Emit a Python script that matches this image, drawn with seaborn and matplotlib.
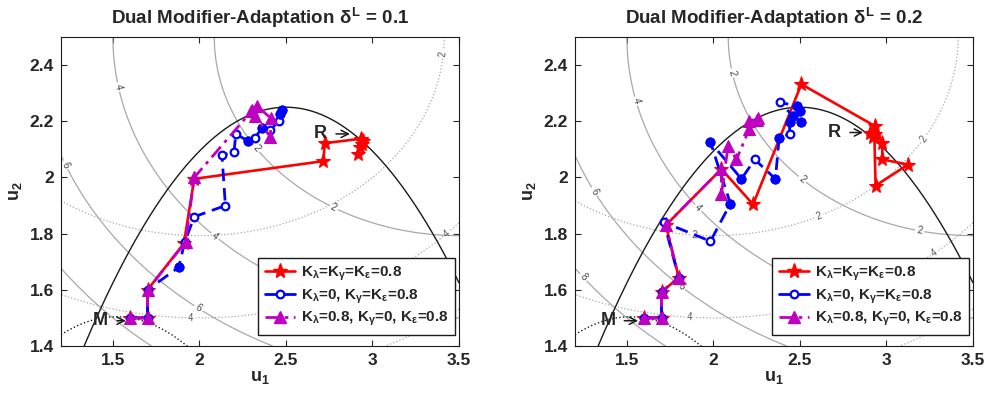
import numpy as np
import pandas as pd
import matplotlib
matplotlib.use("Agg")
import matplotlib.pyplot as plt
import seaborn as sns

# ---------------- data ----------------
titles = ["Dual Modifier-Adaptation $\\delta^{L}$ = 0.1",
          "Dual Modifier-Adaptation $\\delta^{L}$ = 0.2"]
legend_labels = ["K$_{\\lambda}$=K$_{\\gamma}$=K$_{\\varepsilon}$=0.8",
                 "K$_{\\lambda}$=0, K$_{\\gamma}$=K$_{\\varepsilon}$=0.8",
                 "K$_{\\lambda}$=0.8, K$_{\\gamma}$=0, K$_{\\varepsilon}$=0.8"]
x_ticks = [1.5, 2, 2.5, 3, 3.5]
y_ticks = [1.4, 1.6, 1.8, 2, 2.2, 2.4]
contour_levels = [2, 4, 6, 8]

# panel 1 (delta^L = 0.1)
red1_u1 = [1.6, 1.7, 1.7, 1.91, 1.97, 2.715, 2.725, 2.935, 2.915, 2.945, 2.93, 2.94, 2.935]
red1_u2 = [1.5, 1.5, 1.6, 1.765, 1.995, 2.058, 2.122, 2.138, 2.085, 2.128, 2.11, 2.12, 2.132]
blue1_u1 = [1.6, 1.7, 1.7, 1.88, 1.915, 1.97, 2.15, 2.13, 2.20, 2.21, 2.28, 2.32, 2.36, 2.41, 2.46, 2.465, 2.48]
blue1_u2 = [1.5, 1.5, 1.6, 1.68, 1.77, 1.86, 1.90, 2.08, 2.09, 2.155, 2.13, 2.14, 2.175, 2.17, 2.20, 2.225, 2.24]
blue1_filled = [0, 0, 0, 1, 0, 0, 0, 0, 0, 0, 1, 0, 1, 0, 0, 1, 1]
mag1_u1 = [1.6, 1.7, 1.7, 1.92, 1.97, 2.30, 2.41, 2.415, 2.33, 2.305, 2.32]
mag1_u2 = [1.5, 1.5, 1.6, 1.77, 2.0, 2.235, 2.145, 2.21, 2.255, 2.24, 2.22]

# panel 2 (delta^L = 0.2)
red2_u1 = [1.6, 1.7, 1.7, 1.80, 1.725, 2.046, 2.229, 2.508, 2.933, 2.975, 2.977, 3.125, 2.937, 2.93, 2.905, 2.92, 2.935]
red2_u2 = [1.5, 1.5, 1.593, 1.643, 1.83, 2.03, 1.904, 2.332, 2.183, 2.124, 2.064, 2.046, 1.971, 2.15, 2.16, 2.145, 2.155]
blue2_u1 = [1.6, 1.7, 1.7, 1.80, 1.714, 1.983, 2.098, 1.983, 2.162, 2.239, 2.358, 2.38, 2.44, 2.44, 2.46, 2.383, 2.483, 2.498, 2.504]
blue2_u2 = [1.5, 1.5, 1.593, 1.643, 1.84, 1.773, 1.907, 2.125, 1.995, 2.064, 1.995, 2.142, 2.154, 2.198, 2.219, 2.267, 2.255, 2.237, 2.198]
blue2_filled = [0, 0, 0, 0, 0, 0, 1, 1, 1, 0, 1, 1, 0, 1, 1, 0, 1, 1, 1]
mag2_u1 = [1.6, 1.7, 1.7, 1.80, 1.725, 2.046, 2.046, 2.085, 2.133, 2.206, 2.206, 2.258, 2.25]
mag2_u2 = [1.5, 1.5, 1.593, 1.643, 1.83, 2.03, 1.94, 2.112, 2.064, 2.171, 2.20, 2.211, 2.205]

# cost / constraint parameters (plant & model)
plant_center = (3.5, 2.5)
model_center = (2.0, 2.5)
u2_weight = 4.0
plant_con = (2.5, 2.25, 0.625)    # vertex u1, vertex u2, curvature
model_con = (1.52, 1.504, 0.625)

R_pt = {"text": (2.70, 2.155), "tip": (2.87, 2.155)}
M_pt = {"text": (1.43, 1.49), "tip": (1.575, 1.49)}
R_pt2 = {"text": (2.70, 2.16), "tip": (2.865, 2.16)}
M_pt2 = {"text": (1.39, 1.49), "tip": (1.565, 1.49)}

labels_plant1 = [(1.52, 2.32), (1.21, 2.04), (2.32, 2.10), (2.79, 1.91), (2.09, 1.79), (1.99, 1.53)]
labels_model1 = [(3.40, 2.44), (3.43, 1.80), (1.95, 1.50)]
labels_plant2 = [(2.10, 2.37), (1.54, 2.27), (1.31, 1.95), (1.24, 1.64), (2.51, 1.99), (3.19, 1.80), (1.91, 1.89), (1.81, 1.61)]
labels_model2 = [(3.21, 2.14), (2.61, 1.86), (1.89, 1.79), (1.86, 1.50), (3.28, 1.73)]

# ---------------- style ----------------
sns.set_theme(style="ticks")
plt.rcParams["font.family"] = ["Liberation Sans", "DejaVu Sans"]
plt.rcParams["mathtext.fontset"] = "custom"
plt.rcParams["mathtext.rm"] = "Liberation Sans:bold"
plt.rcParams["mathtext.it"] = "Liberation Sans:bold"
plt.rcParams["mathtext.bf"] = "Liberation Sans:bold"

RED = "#ff0000"
BLUE = "#0000ff"
MAG = "#c000c0"
GRAY = "#a8a8a8"

fig = plt.figure(figsize=(9.86, 3.94), dpi=100)
ax1 = fig.add_axes([61 / 986, 48 / 394, 398 / 986, 309 / 394])
ax2 = fig.add_axes([575 / 986, 48 / 394, 398 / 986, 309 / 394])

g1 = np.linspace(1.2, 3.5, 400)
g2 = np.linspace(1.4, 2.5, 300)
U1, U2 = np.meshgrid(g1, g2)
plant_cost = (U1 - plant_center[0]) ** 2 + u2_weight * (U2 - plant_center[1]) ** 2
model_cost = (U1 - model_center[0]) ** 2 + u2_weight * (U2 - model_center[1]) ** 2
uc = np.linspace(1.2, 3.5, 400)


def panel(ax, title, red, blue, blue_filled, mag, Rp, Mp, lp, lm):
    ax.set_xlim(1.2, 3.5)
    ax.set_ylim(1.4, 2.5)
    cs_p = ax.contour(U1, U2, plant_cost, levels=contour_levels, colors=GRAY,
                      linewidths=0.9, linestyles="-")
    cs_m = ax.contour(U1, U2, model_cost, levels=contour_levels, colors=GRAY,
                      linewidths=0.9, linestyles=":")
    ax.clabel(cs_p, inline=True, fmt="%d", fontsize=7, colors="#444444",
              manual=lp, inline_spacing=2)
    ax.clabel(cs_m, inline=True, fmt="%d", fontsize=7, colors="#555555",
              manual=lm, inline_spacing=2)
    # constraints
    ax.plot(uc, plant_con[1] - plant_con[2] * (uc - plant_con[0]) ** 2,
            color="k", lw=1.0)
    ax.plot(uc, model_con[1] - model_con[2] * (uc - model_con[0]) ** 2,
            color="k", lw=1.0, ls=":")

    dr = pd.DataFrame({"u1": red[0], "u2": red[1]})
    db = pd.DataFrame({"u1": blue[0], "u2": blue[1], "f": blue_filled})
    dm = pd.DataFrame({"u1": mag[0], "u2": mag[1]})

    sns.lineplot(data=dr, x="u1", y="u2", sort=False, estimator=None, ax=ax,
                 color=RED, lw=1.9, marker="*", markersize=11,
                 markeredgecolor=RED, markerfacecolor=RED, zorder=5)
    sns.lineplot(data=db, x="u1", y="u2", sort=False, estimator=None, ax=ax,
                 color=BLUE, lw=2.0, dashes=False, linestyle=(0, (4.5, 2.5)),
                 marker="o", markersize=5.5, markeredgewidth=1.6,
                 markeredgecolor=BLUE, markerfacecolor="white", zorder=6)
    dbf = db[db["f"] == 1]
    sns.scatterplot(data=dbf, x="u1", y="u2", ax=ax, color=BLUE, s=45,
                    edgecolor=BLUE, linewidth=0.5, zorder=7, legend=False)
    sns.lineplot(data=dm, x="u1", y="u2", sort=False, estimator=None, ax=ax,
                 color=MAG, lw=2.0, linestyle=(0, (5, 2, 1.2, 2)),
                 marker="^", markersize=8, markeredgecolor=MAG,
                 markerfacecolor=MAG, zorder=8)

    for lab, pt in (("R", Rp), ("M", Mp)):
        ax.annotate(lab, xy=pt["tip"], xytext=pt["text"], fontsize=13,
                    fontweight="bold", va="center", ha="center", zorder=10,
                    arrowprops=dict(arrowstyle="->", color="k", lw=1.1,
                                    shrinkA=4, shrinkB=0))

    h = [plt.Line2D([], [], color=RED, lw=1.9, marker="*", markersize=11),
         plt.Line2D([], [], color=BLUE, lw=2.0, marker="o", markersize=5.5,
                    markeredgewidth=1.6, markerfacecolor="white"),
         plt.Line2D([], [], color=MAG, lw=2.0, ls=(0, (5, 2, 1.2, 2)),
                    marker="^", markersize=8)]
    leg = ax.legend(h, legend_labels, loc="lower right",
                    bbox_to_anchor=(0.99, 0.037), borderaxespad=0,
                    fancybox=False, edgecolor="k", framealpha=1,
                    prop={"weight": "bold", "size": 11}, handlelength=2.0,
                    handletextpad=0.4, labelspacing=0.3, borderpad=0.4)
    leg.get_frame().set_linewidth(1.0)
    leg.set_zorder(20)

    ax.set_xticks(x_ticks)
    ax.set_xticklabels([f"{t:g}" for t in x_ticks])
    ax.set_yticks(y_ticks)
    ax.set_yticklabels([f"{t:g}" for t in y_ticks])
    ax.tick_params(direction="in", top=True, right=True, length=4, width=0.8,
                   labelsize=12.5, pad=5)
    for t in ax.get_xticklabels() + ax.get_yticklabels():
        t.set_fontweight("bold")
    for s in ax.spines.values():
        s.set_color("k")
        s.set_linewidth(0.8)
    ax.set_xlabel("u$_1$", fontsize=13, fontweight="bold", labelpad=1)
    ax.set_ylabel("u$_2$", fontsize=13, fontweight="bold", labelpad=4)
    ax.set_title(title, fontsize=13.5, fontweight="bold", pad=9)
    ax.set_xlim(1.2, 3.5)
    ax.set_ylim(1.4, 2.5)


panel(ax1, titles[0], (red1_u1, red1_u2), (blue1_u1, blue1_u2), blue1_filled,
      (mag1_u1, mag1_u2), R_pt, M_pt, labels_plant1, labels_model1)
panel(ax2, titles[1], (red2_u1, red2_u2), (blue2_u1, blue2_u2), blue2_filled,
      (mag2_u1, mag2_u2), R_pt2, M_pt2, labels_plant2, labels_model2)

fig.savefig("out.png", dpi=100)
